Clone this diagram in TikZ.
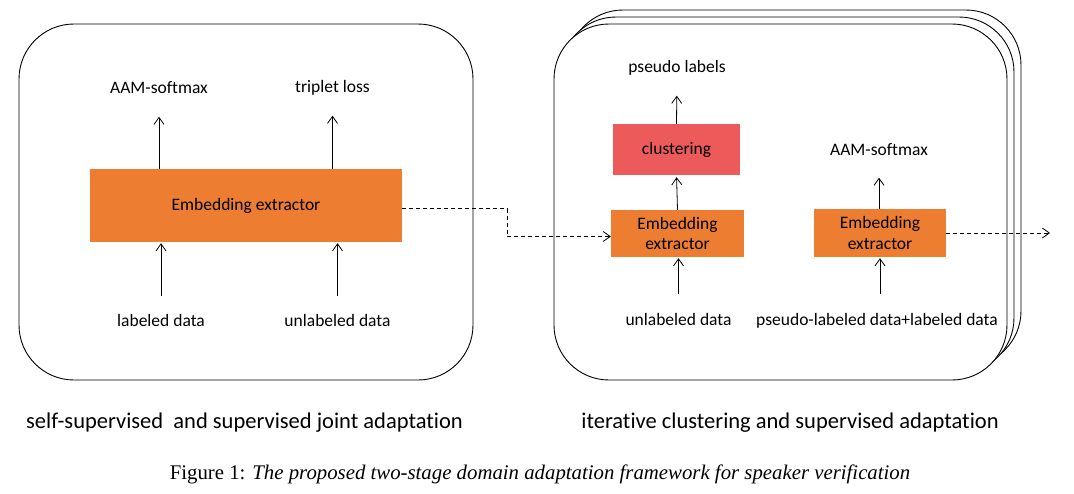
\documentclass[tikz,border=0pt]{standalone}
\usepackage{fontspec}
\setmainfont{Carlito}[Ligatures=NoCommon]
\newfontfamily\capfont{Liberation Serif}
\usetikzlibrary{arrows.meta,calc,positioning}
\definecolor{embcol}{HTML}{ED7D31}
\definecolor{cluscol}{HTML}{EC5A5A}

\begin{document}
\begin{tikzpicture}[x=1pt,y=-1pt,
  panel/.style={draw,line width=0.9pt,rounded corners=55pt,fill=white},
  box/.style={fill=#1,inner sep=0pt,align=center,font=\fontsize{17.5pt}{20.5pt}\selectfont},
  lbl/.style={inner sep=0pt,text height=12pt,text depth=3pt,font=\fontsize{17.5pt}{20.5pt}\selectfont},
  stagecap/.style={inner sep=0pt,font=\fontsize{22.5pt}{26pt}\selectfont},
  arr/.style={-{Straight Barb[length=7pt,width=10pt]},line width=0.8pt},
  darr/.style={arr,dash pattern=on 4pt off 3pt}]
\useasboundingbox (0,0) rectangle (1074,493);

% left stage
\draw[panel] (19,24) rectangle (473,380);
\node[box=embcol,minimum width=312pt,minimum height=73pt] (embL) at (246,205.5) {Embedding extractor};
\node[lbl] (aamL) at (159,89) {AAM-softmax};
\node[lbl] (tripL) at (332.5,88) {triplet loss};
\node[lbl] (labL) at (161,322) {labeled data};
\node[lbl] (unlabL) at (337.5,322) {unlabeled data};
\draw[arr,shorten >=20pt] (aamL |- embL.north) -- (aamL.south);
\draw[arr,shorten >=20pt] (tripL |- embL.north) -- (tripL.south);
\draw[arr,shorten <=18pt,shorten >=1pt] (labL.north) -- (labL |- embL.south);
\draw[arr,shorten <=18pt,shorten >=1pt] (unlabL.north) -- (unlabL |- embL.south);

% right stage, stacked panels
\draw[panel] (568,10) rectangle (1021,366);
\draw[panel] (561,17) rectangle (1014,373);
\draw[panel] (554,24) rectangle (1007,380);
\node[box=cluscol,minimum width=127pt,minimum height=51pt] (clus) at (676.5,149.5) {clustering};
\node[box=embcol,minimum width=133pt,minimum height=47pt] (emb1) at (677.5,233.5) {Embedding\\extractor};
\node[box=embcol,minimum width=132pt,minimum height=48pt] (emb2) at (880,233) {Embedding\\extractor};
\node[lbl] (pseudo) at (677,68) {pseudo labels};
\node[lbl] (aamR) at (879,151) {AAM-softmax};
\node[lbl] (unlabR) at (678.5,321) {unlabeled data};
\node[lbl] (pldR) at (877,321) {pseudo-labeled data+labeled data};
\coordinate (out) at (1050,233);
\draw[arr,shorten >=20pt] (clus.north) -- (pseudo.south);
\draw[arr,shorten >=2pt] (emb1.north) -- (clus.south);
\draw[arr,shorten <=19pt,shorten >=1pt] (unlabR.north) -- (unlabR |- emb1.south);
\draw[arr,shorten >=19pt] (aamR |- emb2.north) -- (aamR.south);
\draw[arr,shorten <=19pt,shorten >=1pt] (pldR.north -| emb2) -- (emb2.south);

% dashed links
\draw[darr] ([yshift=-3pt]embL.east) -- ++(105,0) |- ([yshift=-3pt]emb1.west);
\draw[darr] (emb2.east) -- (out);

% captions
\node[stagecap] (capL) at (244.5,423) {self-supervised~ and supervised joint adaptation};
\node[stagecap] (capR) at (790,423) {iterative clustering and supervised adaptation};
\node[inner sep=0pt,font=\capfont\fontsize{20.8pt}{24pt}\selectfont] (fig) at (540,474)
  {Figure 1: \textit{The proposed two-stage domain adaptation framework for speaker verification}};
\end{tikzpicture}
\end{document}
